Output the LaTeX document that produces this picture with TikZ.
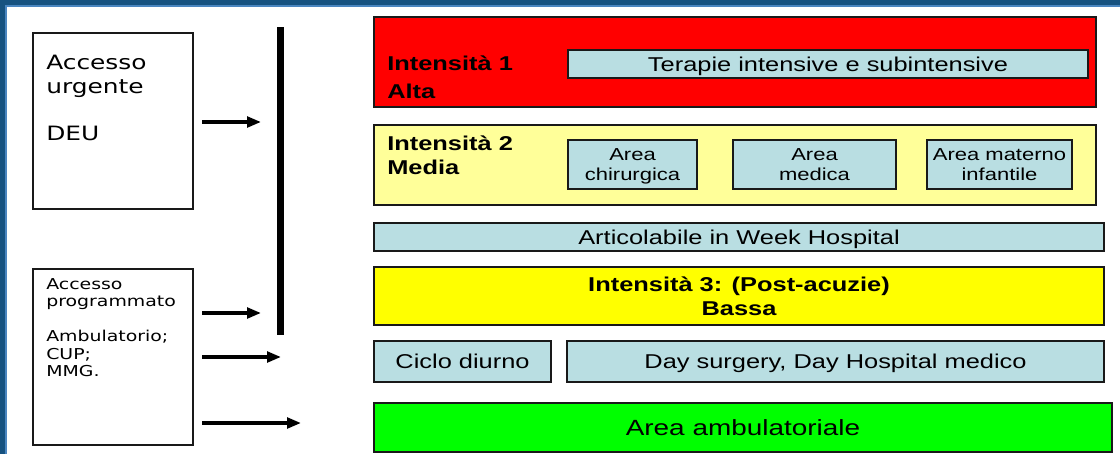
\documentclass[tikz,border=0pt]{standalone}
\usepackage{fontspec}
\usetikzlibrary{arrows.meta}

\newfontfamily\arialx[FakeStretch=1.27]{Liberation Sans}
\newfontfamily\dejax[FakeStretch=1.26]{DejaVu Sans}

\definecolor{frameblue}{RGB}{22,82,128}
\definecolor{framelight}{RGB}{74,134,192}
\definecolor{lightblue}{RGB}{185,222,226}
\definecolor{paleyellow}{RGB}{255,255,153}
\definecolor{altared}{RGB}{255,0,0}
\definecolor{bassayellow}{RGB}{255,255,0}
\definecolor{ambgreen}{RGB}{0,255,0}

\tikzset{
  sz/.style 2 args={minimum width=#1*0.75pt,minimum height=#2*0.75pt},
  big/.style={font=\arialx\fontsize{15}{18}\selectfont,text depth=0pt},
  small/.style={font=\arialx\fontsize{13}{15}\selectfont,text depth=0pt}
}

\begin{document}
\begin{tikzpicture}[x=0.75pt,y=-0.75pt]

        \useasboundingbox (0,0) rectangle (1120,454);
        \fill[frameblue] (0,0) rectangle (1120,6);
        \fill[frameblue] (0,0) rectangle (6,454);
        \draw[framelight,line width=1.2pt] (1120,6) -- (6,6) -- (6,454);

        \begin{scope}[every node/.style={rectangle,draw=black!90,line width=1.1pt,inner sep=0pt}]
          \node[sz={160}{176}, fill=white] (1) at (113,121) {};
          \node[sz={160}{176}, fill=white] (2) at (113,357) {};
          \node[sz={722}{90}, fill=altared] (3) at (735,62) {};
          \node[sz={520}{28}, fill=lightblue, big] (4) at (828,64) {Terapie intensive e subintensive};
          \node[sz={722}{80}, fill=paleyellow] (5) at (735,165) {};
          \node[sz={129}{49}, fill=lightblue, small, align=center] (6) at (632.5,164.5) {Area\\chirurgica};
          \node[sz={163}{49}, fill=lightblue, small, align=center] (7) at (814.5,164.5) {Area\\medica};
          \node[sz={145}{49}, fill=lightblue, small, align=center] (8) at (999.5,164.5) {Area materno\\infantile};
          \node[sz={730}{28}, fill=lightblue, big] (9) at (739,237) {Articolabile in Week Hospital};
          \node[sz={730}{58}, fill=bassayellow, font={\arialx\bfseries\fontsize{15}{18}\selectfont}, align=center] (10) at (739,296) {Intensità 3: (Post-acuzie)\\Bassa};
          \node[sz={177}{41}, fill=lightblue, big] (11) at (462.5,361.5) {Ciclo diurno};
          \node[sz={537}{41}, fill=lightblue, big] (12) at (835.5,361.5) {Day surgery, Day Hospital medico};
          \node[sz={738}{49}, fill=ambgreen, font=\arialx\fontsize{16.5}{19}\selectfont] (13) at (743,427.5) {Area ambulatoriale};
        \end{scope}

        \begin{scope}[every node/.style={anchor=north west,inner sep=0pt,align=left}]
          \node[font=\arialx\bfseries\fontsize{15}{21}\selectfont] (14) at (387,56) {Intensità 1\\Alta};
          \node[font=\arialx\bfseries\fontsize{15}{17.6}\selectfont] (15) at (387,136) {Intensità 2\\Media};
          \node[font=\dejax\fontsize{14.8}{17.6}\selectfont] (16) at (46,55) {Accesso\\urgente\\[17.6pt]DEU};
          \node[font=\dejax\fontsize{11.25}{13.1}\selectfont] (17) at (46,278) {Accesso\\programmato\\[13.1pt]Ambulatorio;\\CUP;\\MMG.};
        \end{scope}

        \draw[line width=5.25pt] (280.5,27) -- (280.5,335);

        \coordinate (a1) at (202,122);
        \coordinate (b1) at (261,122);
        \coordinate (a2) at (202,313);
        \coordinate (b2) at (261,313);
        \coordinate (a3) at (202,357);
        \coordinate (b3) at (281,357);
        \coordinate (a4) at (202,423);
        \coordinate (b4) at (301,423);

        \begin{scope}[every edge/.style={draw,line width=2.5pt,-{Triangle[length=10.5pt,width=8pt]}}]
          \path (a1) edge (b1);
          \path (a2) edge (b2);
          \path (a3) edge (b3);
          \path (a4) edge (b4);
        \end{scope}

      \end{tikzpicture}
\end{document}
